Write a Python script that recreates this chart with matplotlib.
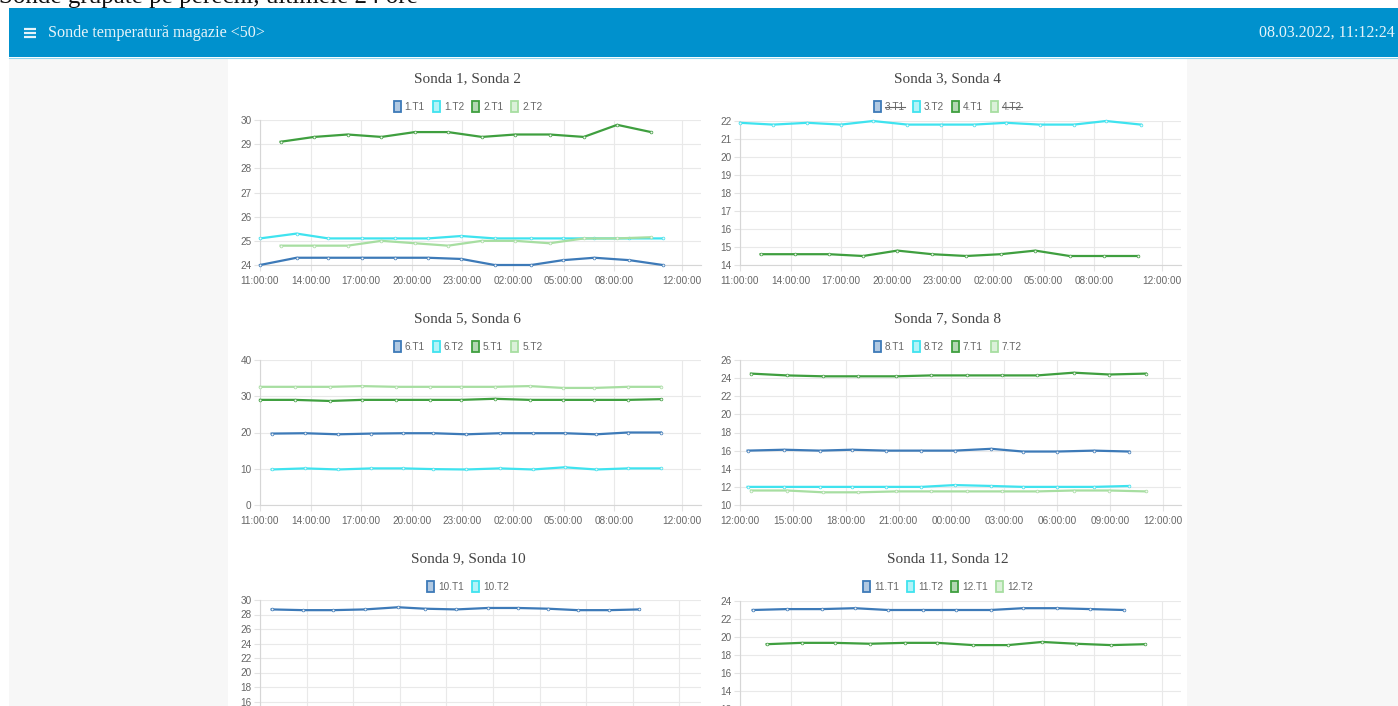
import numpy as np
import matplotlib
matplotlib.use("Agg")
import matplotlib.pyplot as plt
from matplotlib.patches import Rectangle
from matplotlib.colors import to_rgba

W, H = 1398, 706

# culori serii
C_T1a = "#3d7ab8"   # T1 (albastru)
C_T2a = "#3fe3ef"   # T2 (cyan)
C_T1b = "#3f9f3f"   # T1 (verde)
C_T2b = "#a7dea1"   # T2 (verde deschis)

# axe de timp
ticks_11 = [0, 3, 6, 9, 12, 15, 18, 21, 25]
lbl_11 = ["11:00:00", "14:00:00", "17:00:00", "20:00:00", "23:00:00",
          "02:00:00", "05:00:00", "08:00:00", "12:00:00"]
ticks_12 = [0, 3, 6, 9, 12, 15, 18, 21, 24]
lbl_12 = ["12:00:00", "15:00:00", "18:00:00", "21:00:00", "00:00:00",
          "03:00:00", "06:00:00", "09:00:00", "12:00:00"]
ticks_9 = [0, 3, 6, 9, 12, 15, 18, 21, 24, 27]
lbl_9 = ["13:00:00", "16:00:00", "19:00:00", "22:00:00", "01:00:00",
         "04:00:00", "07:00:00", "10:00:00", "13:00:00", "16:00:00"]

#%% Sonda 1, Sonda 2 (ore de la 11:00)
t_s1 = [0, 2.17, 4.05, 6.02, 7.99, 9.96, 11.94, 13.91, 16.08, 17.96, 19.83, 21.91, 23.88]
s1_T1 = [24.0, 24.3, 24.3, 24.3, 24.3, 24.3, 24.25, 24.0, 24.0, 24.2, 24.3, 24.2, 24.0]
s1_T2 = [25.1, 25.3, 25.1, 25.1, 25.1, 25.1, 25.2, 25.1, 25.1, 25.1, 25.1, 25.1, 25.1]
t_s2 = [1.22, 3.22, 5.19, 7.2, 9.18, 11.15, 13.16, 15.14, 17.17, 19.2, 21.18, 23.19]
s2_T1 = [29.1, 29.3, 29.4, 29.3, 29.5, 29.5, 29.3, 29.4, 29.4, 29.3, 29.8, 29.5]
s2_T2 = [24.8, 24.8, 24.8, 25.0, 24.9, 24.8, 25.0, 25.0, 24.9, 25.1, 25.1, 25.15]

#%% Sonda 3, Sonda 4
t_s3 = [0, 1.97, 4.0, 5.98, 7.89, 9.93, 11.9, 13.87, 15.79, 17.76, 19.8, 21.71, 23.78]
s3_T1 = []
s3_T2 = [21.9, 21.8, 21.9, 21.8, 22.0, 21.8, 21.8, 21.8, 21.9, 21.8, 21.8, 22.0, 21.8]
t_s4 = [1.22, 3.26, 5.27, 7.3, 9.33, 11.39, 13.42, 15.45, 17.51, 19.54, 21.57, 23.62]
s4_T1 = [14.6, 14.6, 14.6, 14.5, 14.8, 14.6, 14.5, 14.6, 14.8, 14.5, 14.5, 14.5]
s4_T2 = []

#%% Sonda 5, Sonda 6
t_s6 = [0.69, 2.66, 4.64, 6.61, 8.49, 10.26, 12.24, 14.21, 16.18, 18.06, 19.93, 21.81, 23.78]
s6_T1 = [19.7, 19.8, 19.5, 19.7, 19.8, 19.8, 19.5, 19.8, 19.8, 19.8, 19.5, 20.0, 20.0]
s6_T2 = [9.8, 10.1, 9.8, 10.1, 10.1, 9.9, 9.8, 10.1, 9.8, 10.4, 9.8, 10.1, 10.1]
t_s5 = [0, 2.07, 4.14, 6.02, 8.09, 10.07, 11.94, 13.91, 15.99, 17.96, 19.83, 21.81, 23.78]
s5_T1 = [29.0, 29.0, 28.7, 29.0, 29.0, 29.0, 29.0, 29.3, 29.0, 29.0, 29.0, 29.0, 29.2]
s5_T2 = [32.6, 32.6, 32.6, 32.8, 32.6, 32.6, 32.6, 32.6, 32.8, 32.3, 32.3, 32.6, 32.6]

#%% Sonda 7, Sonda 8 (ore de la 12:00)
t_s8 = [0.43, 2.51, 4.53, 6.37, 8.31, 10.3, 12.19, 14.27, 16.06, 18.01, 20.09, 22.11]
s8_T1 = [16.0, 16.1, 16.0, 16.1, 16.0, 16.0, 16.0, 16.2, 15.9, 15.9, 16.0, 15.9]
s8_T2 = [12.0, 12.0, 12.0, 12.0, 12.0, 12.0, 12.2, 12.1, 12.0, 12.0, 12.0, 12.1]
t_s7 = [0.62, 2.65, 4.73, 6.71, 8.88, 10.86, 12.91, 14.87, 16.88, 18.95, 20.97, 23.05]
s7_T1 = [24.5, 24.3, 24.2, 24.2, 24.2, 24.3, 24.3, 24.3, 24.3, 24.6, 24.4, 24.5]
s7_T2 = [11.6, 11.6, 11.4, 11.4, 11.5, 11.5, 11.5, 11.5, 11.5, 11.6, 11.6, 11.5]

#%% Sonda 9, Sonda 10
t_s10 = [0.75, 2.79, 4.71, 6.75, 8.89, 10.61, 12.64, 14.68, 16.61, 18.54, 20.46, 22.5, 24.43]
s10_T1 = [28.7, 28.6, 28.6, 28.7, 29.0, 28.8, 28.7, 28.9, 28.9, 28.8, 28.6, 28.6, 28.7]
s10_T2 = []

#%% Sonda 11, Sonda 12
t_s11 = [0.75, 2.76, 4.84, 6.81, 8.78, 10.85, 12.83, 14.86, 16.78, 18.81, 20.78, 22.79]
s11_T1 = [23.0, 23.1, 23.1, 23.2, 23.0, 23.0, 23.0, 23.0, 23.2, 23.2, 23.1, 23.0]
s11_T2 = []
t_s12 = [1.58, 3.65, 5.62, 7.7, 9.77, 11.7, 13.82, 15.89, 17.92, 19.93, 22.0, 24.04]
s12_T1 = [19.2, 19.35, 19.35, 19.25, 19.35, 19.35, 19.1, 19.1, 19.45, 19.25, 19.1, 19.2]
s12_T2 = []

#%% pagina
fig = plt.figure(figsize=(W / 100, H / 100), dpi=100)
pg = fig.add_axes([0, 0, 1, 1])
pg.set_xlim(0, W)
pg.set_ylim(H, 0)
pg.axis("off")
pg.set_zorder(-1)

pg.add_patch(Rectangle((9, 58), W - 9, H - 58, facecolor="#f7f7f7", lw=0))
pg.add_patch(Rectangle((228, 58), 959, H - 58, facecolor="white", lw=0))
pg.add_patch(Rectangle((9, 8), W - 9, 49, facecolor="#0091cd", lw=0))
pg.plot([9, W], [57.5, 57.5], color="#8fd6ee", lw=0.8)

# titlul paginii, taiat sus
pg.text(-1, 3, "Sonde grupate pe perechi, ultimele 24 ore", fontsize=18,
        family="Liberation Serif", color="#111111", va="baseline", ha="left")
for yy in (28.7, 32.7, 36.7):
    pg.plot([24, 36], [yy, yy], color="#e6f4fa", lw=1.6, solid_capstyle="butt")
pg.text(48, 33, "Sonde temperatură magazie <50>", fontsize=11.6, family="Liberation Serif",
        color="#e6f4fa", va="center", ha="left")
pg.text(1395, 33, "08.03.2022, 11:12:24", fontsize=11.5, family="Liberation Serif",
        color="#e6f4fa", va="center", ha="right")

rend = fig.canvas.get_renderer()


def legenda(cx, cy, items):
    parts = []
    total = 0
    for lab, col, hid in items:
        t = pg.text(0, cy + 0.5, lab, fontsize=7.2, color="#666666", family="Liberation Sans",
                    va="center", ha="left")
        w = t.get_window_extent(rend).width
        parts.append((t, w, col, hid))
        total += 11 + w
    total += 8 * (len(items) - 1)
    x = cx - total / 2
    for t, w, col, hid in parts:
        r, g, b, _ = to_rgba(col)
        pg.add_patch(Rectangle((x, cy - 5.5), 7, 11, facecolor=(r, g, b, 0.4),
                               edgecolor=col, lw=1.3))
        t.set_x(x + 11)
        if hid:
            pg.plot([x + 11, x + 11 + w], [cy + 0.5, cy + 0.5], color="#666666", lw=0.8)
        x += 11 + w + 8


def grafic(top, cx, title, box, ylim, ystep, xlim, xt, xl, series):
    pg.text(cx, top + 18.5, title, fontsize=11, family="Liberation Serif", color="#444444",
            ha="center", va="center")
    legenda(cx, top + 46, [(s[0], s[3], s[4]) for s in series])
    x0, y0, x1, y1 = box
    ax = fig.add_axes([x0 / W, 1 - y1 / H, (x1 - x0) / W, (y1 - y0) / H])
    ax.patch.set_alpha(0)
    for lab, tt, vv, col, hid in series:
        if hid or len(vv) == 0:
            continue
        ax.plot(tt, vv, color=col, lw=1.6, marker="o", ms=2, mfc="#f4f4f4", mec=col,
                mew=0.5, clip_on=False, zorder=3)
    ax.set_xlim(xlim)
    ax.set_ylim(ylim)
    ax.set_yticks(np.arange(ylim[0], ylim[1] + ystep / 2, ystep))
    ax.yaxis.set_major_formatter(lambda v, p: "%g" % v)
    ax.set_xticks(xt)
    ax.set_xticklabels(xl)
    ax.grid(True, color="#e9e9e9", lw=0.8)
    for s in ("top", "right"):
        ax.spines[s].set_visible(False)
    for s in ("left", "bottom"):
        ax.spines[s].set_color("#d6d6d6")
        ax.spines[s].set_linewidth(0.8)
    ax.tick_params(length=4, width=0.8, color="#e3e3e3", labelsize=7.2,
                   labelcolor="#666666", pad=2)
    ax.tick_params(axis="x", pad=4)
    for t in ax.get_xticklabels() + ax.get_yticklabels():
        t.set_family("Liberation Sans")
    return ax


grafic(60, 468, "Sonda 1, Sonda 2", (260, 120, 701, 265), (24, 30), 1, (0, 26.15),
       ticks_11, lbl_11,
       [("1.T1", t_s1, s1_T1, C_T1a, False), ("1.T2", t_s1, s1_T2, C_T2a, False),
        ("2.T1", t_s2, s2_T1, C_T1b, False), ("2.T2", t_s2, s2_T2, C_T2b, False)])
grafic(60, 948, "Sonda 3, Sonda 4", (740, 121, 1181, 265), (14, 22), 1, (0, 26.15),
       ticks_11, lbl_11,
       [("3.T1", t_s3, s3_T1, C_T1a, True), ("3.T2", t_s3, s3_T2, C_T2a, False),
        ("4.T1", t_s4, s4_T1, C_T1b, False), ("4.T2", t_s4, s4_T2, C_T2b, True)])
grafic(300, 468, "Sonda 5, Sonda 6", (260, 360, 701, 505), (0, 40), 10, (0, 26.15),
       ticks_11, lbl_11,
       [("6.T1", t_s6, s6_T1, C_T1a, False), ("6.T2", t_s6, s6_T2, C_T2a, False),
        ("5.T1", t_s5, s5_T1, C_T1b, False), ("5.T2", t_s5, s5_T2, C_T2b, False)])
grafic(300, 948, "Sonda 7, Sonda 8", (740, 360, 1181, 505), (10, 26), 2, (0, 25.04),
       ticks_12, lbl_12,
       [("8.T1", t_s8, s8_T1, C_T1a, False), ("8.T2", t_s8, s8_T2, C_T2a, False),
        ("7.T1", t_s7, s7_T1, C_T1b, False), ("7.T2", t_s7, s7_T2, C_T2b, False)])
grafic(540, 468, "Sonda 9, Sonda 10", (260, 600, 701, 745), (10, 30), 2, (0, 28.4),
       ticks_9, lbl_9,
       [("10.T1", t_s10, s10_T1, C_T1a, False), ("10.T2", t_s10, s10_T2, C_T2a, False)])
grafic(540, 948, "Sonda 11, Sonda 12", (740, 601, 1181, 745), (8, 24), 2, (0, 26.15),
       ticks_11, lbl_11,
       [("11.T1", t_s11, s11_T1, C_T1a, False), ("11.T2", t_s11, s11_T2, C_T2a, False),
        ("12.T1", t_s12, s12_T1, C_T1b, False), ("12.T2", t_s12, s12_T2, C_T2b, False)])

fig.savefig("out.png", dpi=100)
